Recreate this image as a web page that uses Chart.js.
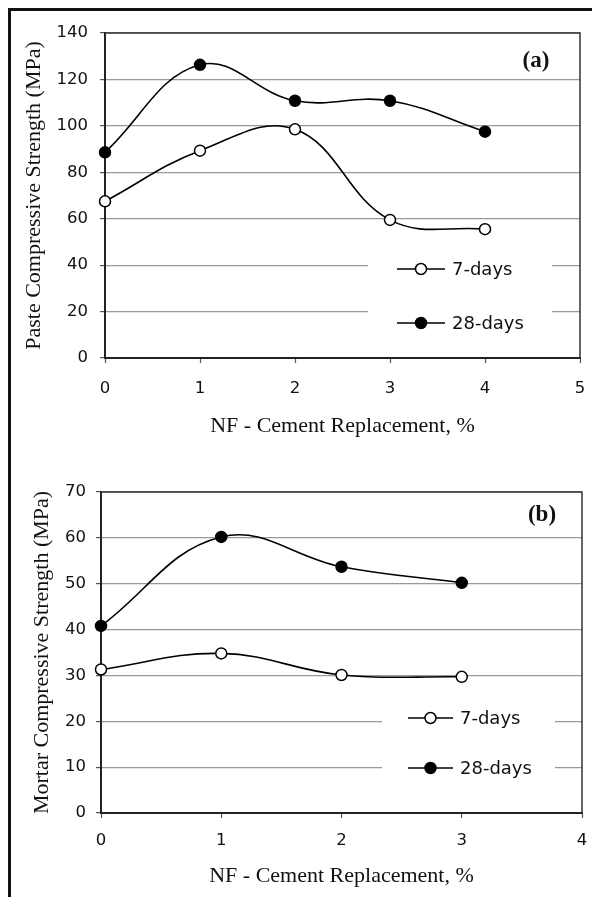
<!DOCTYPE html>
<html>
<head>
<meta charset="utf-8">
<script src="https://cdn.jsdelivr.net/npm/chart.js@4.4.1/dist/chart.umd.min.js"></script>
<style>
  body { margin: 0; background: #fff; }
  #frame { position: absolute; left: 8px; top: 8px; width: 600px; height: 900px; border-left: 3px solid #111; border-top: 3px solid #111; }
  .panel { position: absolute; left: 0; }
</style>
</head>
<body>
<div id="frame"></div>
<canvas id="paste" class="panel" width="592" height="440" style="top:0"></canvas>
<canvas id="mortar" class="panel" width="592" height="457" style="top:440px"></canvas>
<script>
// (a) paste
const pasteX = [0, 1, 2, 3, 4];
const paste7 = [67.5, 89.3, 98.5, 59.5, 55.5];
const paste28 = [88.6, 126.3, 110.8, 110.8, 97.5];
const pasteYTicks = { min: 0, max: 140, step: 20 };
const pasteXTicks = { min: 0, max: 5, step: 1 };

// (b) mortar
const mortarX = [0, 1, 2, 3];
const mortar7 = [31.3, 34.8, 30.1, 29.7];
const mortar28 = [40.8, 60.2, 53.7, 50.2];
const mortarYTicks = { min: 0, max: 70, step: 10 };
const mortarXTicks = { min: 0, max: 4, step: 1 };

const seriesNames = ['7-days', '28-days'];
const xTitle = 'NF - Cement Replacement, %';

const sansFont = 'DejaVu Sans';
const serifFont = 'Liberation Serif';

// frame, "(a)" label and the legend with its white box
const decor = {
  id: 'decor',
  beforeDatasetsDraw(chart, args, opts) {
    const { ctx, chartArea: a } = chart;
    ctx.save();
    ctx.fillStyle = '#fff';
    ctx.fillRect(opts.box[0], opts.box[2], opts.box[1] - opts.box[0], opts.box[3] - opts.box[2]);

    chart.data.datasets.forEach((ds, i) => {
      const y = opts.rows[i];
      ctx.strokeStyle = ds.borderColor;
      ctx.lineWidth = ds.borderWidth;
      ctx.beginPath();
      ctx.moveTo(opts.lineX[0], y);
      ctx.lineTo(opts.lineX[1], y);
      ctx.stroke();
      ctx.beginPath();
      ctx.arc((opts.lineX[0] + opts.lineX[1]) / 2, y, ds.pointRadius, 0, Math.PI * 2);
      ctx.fillStyle = ds.pointBackgroundColor;
      ctx.fill();
      ctx.lineWidth = ds.pointBorderWidth;
      ctx.strokeStyle = ds.pointBorderColor;
      ctx.stroke();
      ctx.fillStyle = '#111';
      ctx.font = '18px "' + sansFont + '"';
      ctx.textAlign = 'left';
      ctx.textBaseline = 'middle';
      ctx.fillText(ds.label, opts.textX, y + 1);
    });

    ctx.strokeStyle = '#333';
    ctx.lineWidth = 1.5;
    ctx.beginPath();
    ctx.moveTo(a.left, a.top);
    ctx.lineTo(a.right, a.top);
    ctx.lineTo(a.right, a.bottom);
    ctx.stroke();

    ctx.fillStyle = '#111';
    ctx.font = 'bold 23px "' + serifFont + '"';
    ctx.textAlign = 'center';
    ctx.textBaseline = 'middle';
    ctx.fillText(opts.label, a.right + opts.labelDX, a.top + opts.labelDY);
    ctx.restore();
  }
};

function makeChart(id, xs, v7, v28, yT, xT, yTitle, geo) {
  const pts = (vals) => xs.map((x, i) => ({ x: x, y: vals[i] }));
  const lineStyle = {
    borderColor: '#000',
    borderWidth: 1.6,
    tension: 0.4,
    pointRadius: 5.5,
    pointHoverRadius: 5.5,
    pointBorderColor: '#000',
    pointBorderWidth: 1.5,
    clip: false
  };
  return new Chart(document.getElementById(id), {
    type: 'line',
    data: {
      datasets: [
        Object.assign({ label: seriesNames[0], data: pts(v7), pointBackgroundColor: '#fff' }, lineStyle),
        Object.assign({ label: seriesNames[1], data: pts(v28), pointBackgroundColor: '#000' }, lineStyle)
      ]
    },
    options: {
      responsive: false,
      animation: false,
      layout: { padding: { left: 0, right: geo.padRight, top: geo.padTop, bottom: 0 } },
      plugins: {
        legend: { display: false },
        tooltip: { enabled: false },
        decor: geo.decor
      },
      scales: {
        x: {
          type: 'linear',
          min: xT.min,
          max: xT.max,
          afterFit: (scale) => {
            scale.height = geo.xHeight;
            scale.paddingLeft = 0;
            scale.paddingRight = 0;
          },
          ticks: {
            stepSize: xT.step,
            autoSkip: false,
            maxRotation: 0,
            padding: geo.xTickPad,
            color: '#111',
            font: { family: sansFont, size: 16.5 }
          },
          grid: { drawOnChartArea: false, drawTicks: true, tickLength: 5, tickColor: '#555', tickWidth: 1.2 },
          border: { color: '#222', width: 2 },
          title: {
            display: true,
            text: xTitle,
            color: '#111',
            padding: { top: 0, bottom: geo.xTitlePad },
            font: { family: serifFont, size: 22 }
          }
        },
        y: {
          min: yT.min,
          max: yT.max,
          afterFit: (scale) => {
            scale.width = geo.yWidth;
            scale.paddingTop = 0;
            scale.paddingBottom = 0;
          },
          ticks: {
            stepSize: yT.step,
            padding: geo.yTickPad,
            color: '#111',
            font: { family: sansFont, size: 16.5 }
          },
          grid: { color: '#999', lineWidth: 1.2, drawTicks: true, tickLength: 5, tickColor: '#555', tickWidth: 1.2 },
          border: { color: '#222', width: 2 },
          title: {
            display: true,
            text: yTitle,
            color: '#111',
            padding: { top: geo.yTitlePad, bottom: 0 },
            font: { family: serifFont, size: 22 }
          }
        }
      }
    },
    plugins: [decor]
  });
}

makeChart('paste', pasteX, paste7, paste28, pasteYTicks, pasteXTicks, 'Paste Compressive Strength (MPa)', {
  padRight: 12, padTop: 33, xHeight: 82, yWidth: 105,
  xTickPad: 16, yTickPad: 12, xTitlePad: 1, yTitlePad: 21,
  decor: { label: '(a)', labelDX: -44, labelDY: 28, box: [368, 552, 235, 345], rows: [269, 323], lineX: [397, 445], textX: 452 }
});

makeChart('mortar', mortarX, mortar7, mortar28, mortarYTicks, mortarXTicks, 'Mortar Compressive Strength (MPa)', {
  padRight: 10, padTop: 52, xHeight: 84, yWidth: 101,
  xTickPad: 12.5, yTickPad: 10, xTitlePad: 8, yTitlePad: 29,
  decor: { label: '(b)', labelDX: -40, labelDY: 23, box: [382, 555, 250, 355], rows: [278, 328], lineX: [408, 453], textX: 460 }
});
</script>
</body>
</html>
